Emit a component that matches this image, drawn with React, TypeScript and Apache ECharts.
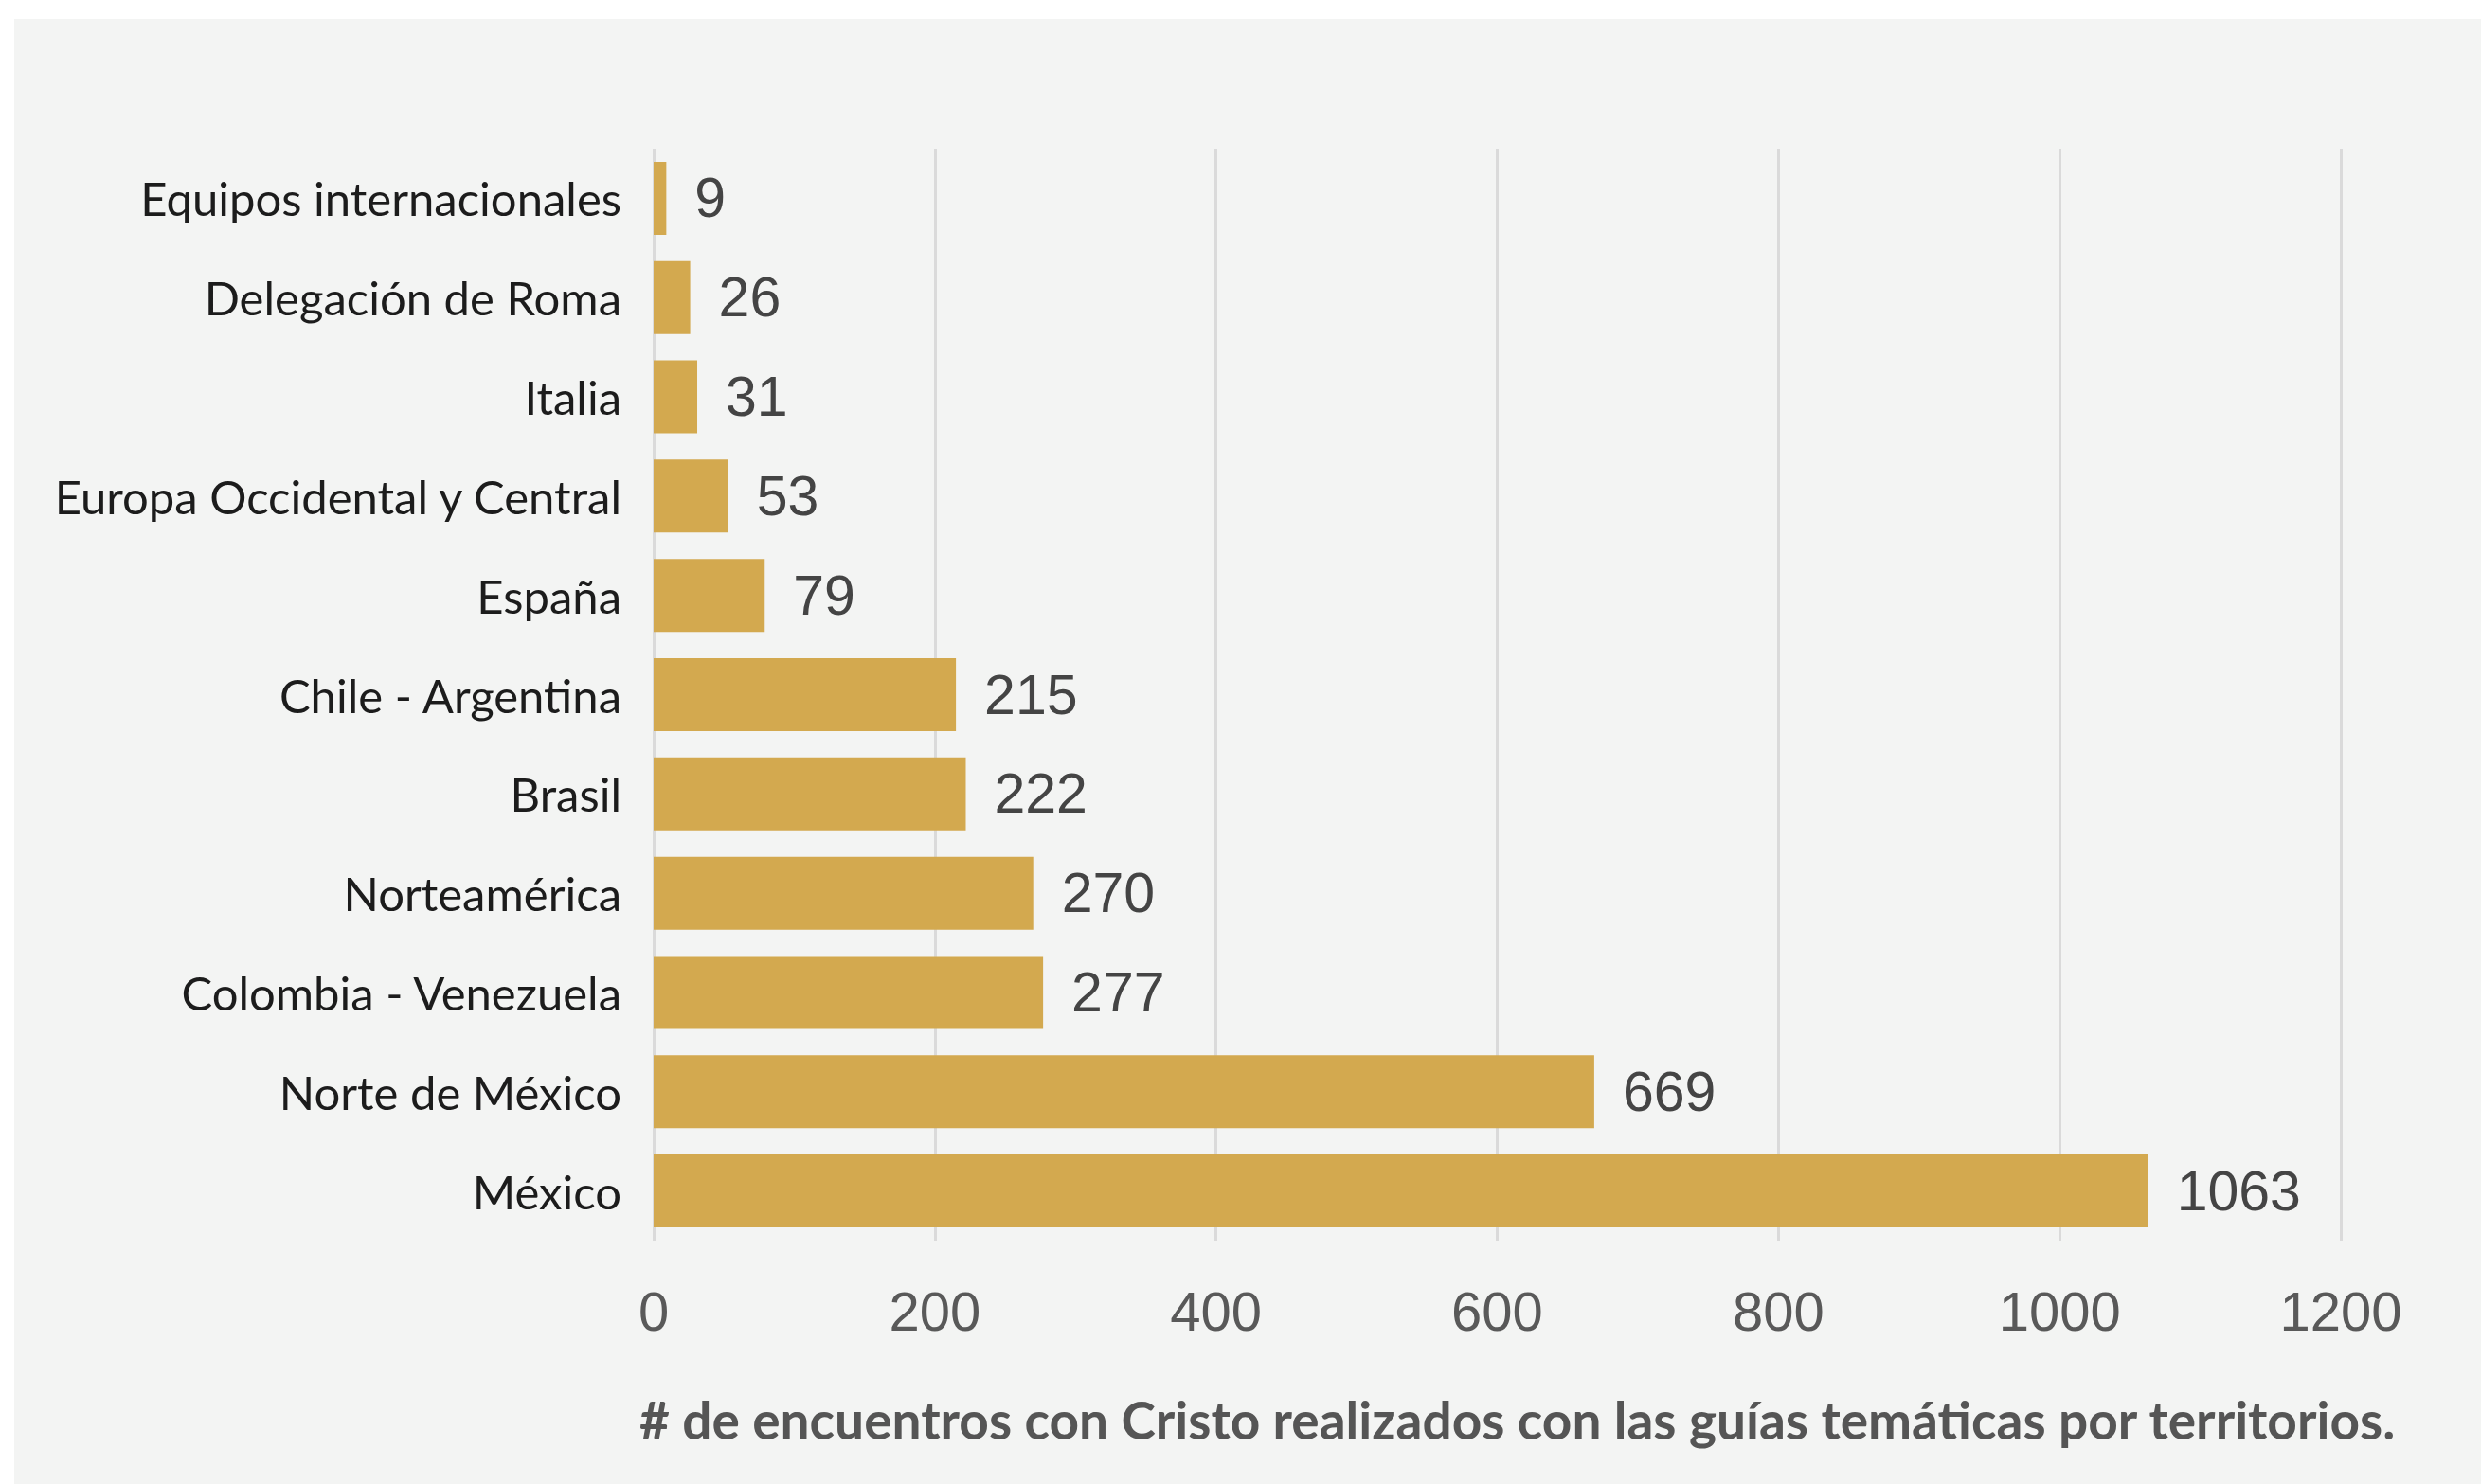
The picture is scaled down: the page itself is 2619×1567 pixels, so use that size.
import React, { useEffect, useRef } from "react";
import * as echarts from "echarts";

const categories = [
  "Equipos internacionales",
  "Delegación de Roma",
  "Italia",
  "Europa Occidental y Central",
  "España",
  "Chile - Argentina",
  "Brasil",
  "Norteamérica",
  "Colombia - Venezuela",
  "Norte de México",
  "México",
];
const values = [9, 26, 31, 53, 79, 215, 222, 270, 277, 669, 1063];
const axisMin = 0;
const axisMax = 1200;
const axisInterval = 200;
const caption = "# de encuentros con Cristo realizados con las guías temáticas por territorios.";

export default function App() {
  const ref = useRef<HTMLDivElement>(null);
  useEffect(() => {
    document.body.style.margin = "0";
    const chart = echarts.init(ref.current!, null, { renderer: "svg" });
    chart.setOption({
      animation: false,
      backgroundColor: "#ffffff",
      graphic: [
        {
          type: "rect",
          z: -10,
          silent: true,
          shape: { x: 15, y: 20, width: 2619 - 15, height: 1567 - 20 },
          style: { fill: "#f3f4f3" },
        },
        {
          type: "text",
          left: 675,
          top: 1471,
          style: {
            text: caption,
            font: "bold 55px Lato",
            fill: "#555555",
          },
        },
      ],
      grid: { left: 690, right: 148, top: 157, bottom: 257, containLabel: false },
      xAxis: {
        type: "value",
        min: axisMin,
        max: axisMax,
        interval: axisInterval,
        axisLine: { show: false },
        axisTick: { show: false },
        splitLine: { show: true, lineStyle: { color: "#dadada", width: 3 } },
        axisLabel: {
          margin: 45,
          fontFamily: "Liberation Sans",
          fontSize: 58,
          color: "#595959",
          formatter: (v: number) => String(v),
        },
      },
      yAxis: {
        type: "category",
        data: categories,
        inverse: true,
        axisLine: { show: false },
        axisTick: { show: false },
        axisLabel: {
          margin: 34,
          fontFamily: "Lato",
          fontSize: 49,
          color: "#1c1c1c",
        },
      },
      series: [
        {
          type: "bar",
          data: values,
          barWidth: 77,
          itemStyle: { color: "#d3a94f" },
          label: {
            show: true,
            position: "right",
            distance: 30,
            fontFamily: "Liberation Sans",
            fontSize: 59,
            color: "#444444",
          },
        },
      ],
    });
    return () => chart.dispose();
  }, []);
  return (
    <div
      ref={ref}
      style={{ position: "absolute", left: 0, top: 0, width: 2619, height: 1567 }}
    />
  );
}
